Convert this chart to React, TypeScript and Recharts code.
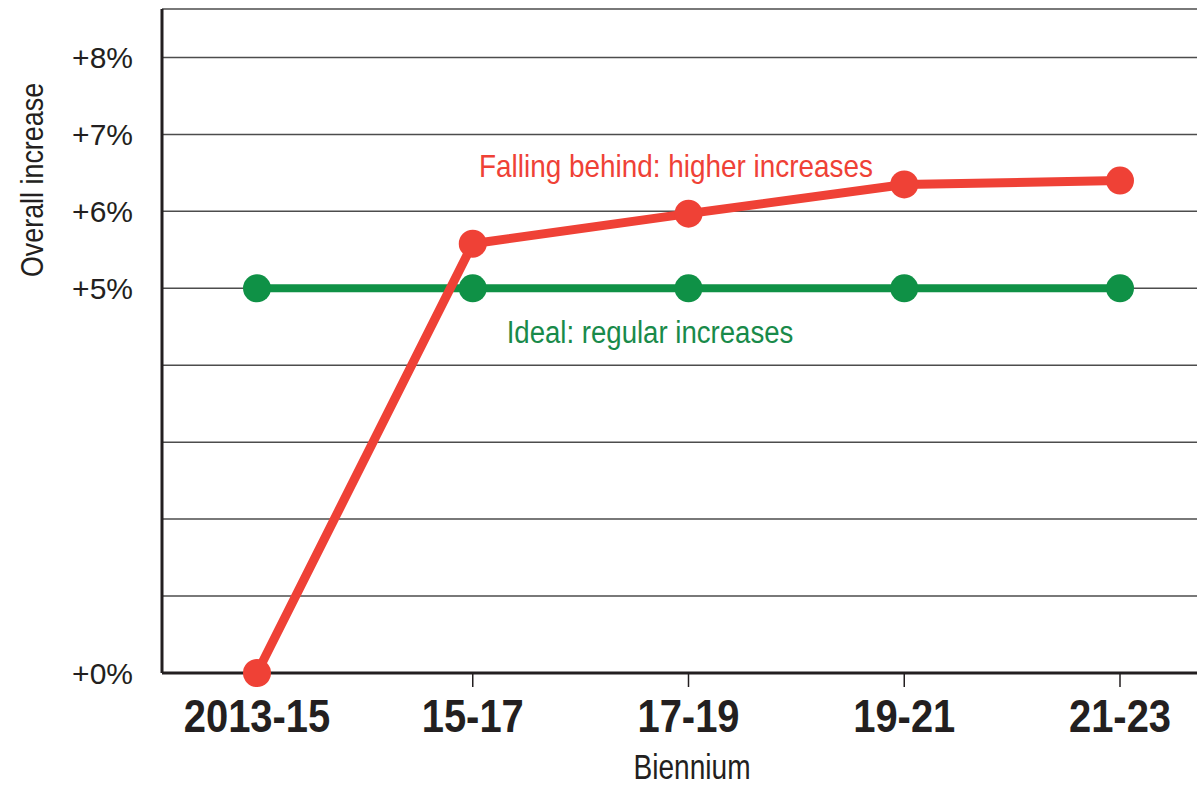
import { CartesianGrid, Label, Line, LineChart, XAxis, YAxis } from 'recharts'

const BIENNIA = ['2013-15', '15-17', '17-19', '19-21', '21-23']
const IDEAL = [5, 5, 5, 5, 5]
const FALLING_BEHIND = [0, 5.58, 5.97, 6.35, 6.4]
const Y_TICKS = [0, 1, 2, 3, 4, 5, 6, 7, 8]
const Y_LABELED = [0, 5, 6, 7, 8]

const RED = '#ef4136'
const GREEN = '#0f9146'
const GREEN_TEXT = '#198a4a'
const INK = '#231f20'
const SANS = "'Liberation Sans', Arial, sans-serif"

const data = BIENNIA.map((b, i) => ({
    biennium: b,
    ideal: IDEAL[i],
    behind: FALLING_BEHIND[i],
}))

// no condensed face installed, so squeeze Liberation Sans sideways
function XTick(props: any) {
    const { x, y, payload } = props
    return (
        <text
            transform={`translate(${x},${y + 35}) scale(0.85,1)`}
            textAnchor="middle"
            fill={INK}
            fontSize={47}
            fontWeight={700}
            fontFamily={SANS}
        >
            {payload.value}
        </text>
    )
}

function Squeezed({ x, y, sx, size, color, rotate, children }: any) {
    return (
        <text
            transform={`translate(${x},${y})${rotate ? ` rotate(${rotate})` : ''} scale(${sx},1)`}
            textAnchor="middle"
            fill={color}
            fontSize={size}
            fontFamily={SANS}
        >
            {children}
        </text>
    )
}

export default function App() {
    return (
        <div style={{ position: 'absolute', left: 0, top: 0, background: '#fff' }}>
            <LineChart
                width={1197}
                height={789}
                data={data}
                margin={{ top: 9, right: 0, bottom: 0, left: 0 }}
            >
                <CartesianGrid vertical={false} stroke="#4d4d4d" strokeWidth={1.5} />
                <XAxis
                    dataKey="biennium"
                    height={116}
                    padding={{ left: 95, right: 77 }}
                    interval={0}
                    axisLine={{ stroke: INK, strokeWidth: 3 }}
                    tickLine={{ stroke: INK, strokeWidth: 1.5 }}
                    tickSize={14}
                    tickMargin={10}
                    tick={<XTick />}
                />
                <YAxis
                    width={162}
                    domain={[0, 8.63]}
                    ticks={Y_TICKS}
                    interval={0}
                    tickFormatter={(v: number) => (Y_LABELED.includes(v) ? `+${v}%` : '')}
                    axisLine={{ stroke: INK, strokeWidth: 3 }}
                    tickLine={false}
                    tickSize={0}
                    tickMargin={29}
                    tick={{ fill: INK, fontSize: 30, fontFamily: SANS }}
                >
                    <Label
                        content={() => (
                            <Squeezed x={43} y={180} sx={0.84} size={32} color={INK} rotate={-90}>
                                Overall increase
                            </Squeezed>
                        )}
                    />
                </YAxis>
                <Line
                    dataKey="ideal"
                    stroke={GREEN}
                    strokeWidth={8}
                    dot={{ r: 14, fill: GREEN, stroke: GREEN, strokeWidth: 0 }}
                    isAnimationActive={false}
                />
                <Line
                    dataKey="behind"
                    stroke={RED}
                    strokeWidth={9}
                    dot={{ r: 14, fill: RED, stroke: RED, strokeWidth: 0 }}
                    isAnimationActive={false}
                />
                <Squeezed x={676} y={177} sx={0.9} size={31} color={RED}>
                    Falling behind: higher increases
                </Squeezed>
                <Squeezed x={650} y={343} sx={0.89} size={31} color={GREEN_TEXT}>
                    Ideal: regular increases
                </Squeezed>
                <Squeezed x={692} y={779} sx={0.78} size={36} color={INK}>
                    Biennium
                </Squeezed>
            </LineChart>
        </div>
    )
}
